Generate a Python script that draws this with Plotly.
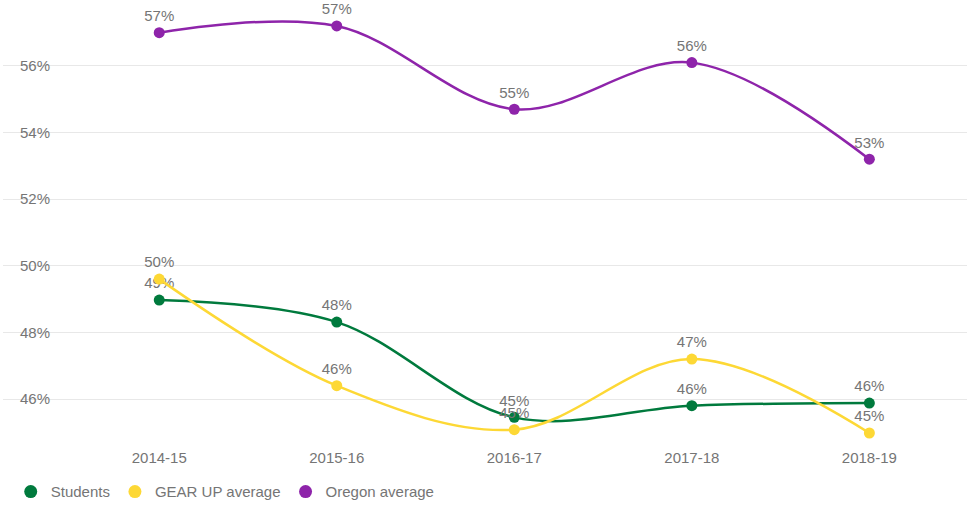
import plotly.graph_objects as go

years = ["2014-15", "2015-16", "2016-17", "2017-18", "2018-19"]
students = [48.97, 48.31, 45.45, 45.8, 45.88]
gear_up = [49.6, 46.4, 45.08, 47.2, 44.98]
oregon = [57.0, 57.2, 54.7, 56.1, 53.2]
y_ticks = [46, 48, 50, 52, 54, 56]
y_tick_text = ["46%", "48%", "50%", "52%", "54%", "56%"]

series = [
    ("Students", students, "#007a3d"),
    ("GEAR UP average", gear_up, "#fdd835"),
    ("Oregon average", oregon, "#8e24aa"),
]

font = "Liberation Sans, Arial, sans-serif"
grey = "#757575"

fig = go.Figure()
for name, vals, col in series:
    fig.add_trace(go.Scatter(
        x=years, y=vals, mode="lines+markers+text", name=name,
        line=dict(color=col, width=2.5, shape="spline", smoothing=1),
        marker=dict(color=col, size=11),
        texttemplate="%{y:.0f}%", textposition="top center",
        textfont=dict(family=font, size=15, color=grey),
        showlegend=False, cliponaxis=False,
    ))
for name, vals, col in series:
    fig.add_trace(go.Scatter(
        x=[None], y=[None], mode="markers", name=name,
        marker=dict(color=col, size=13), showlegend=True,
    ))

fig.update_layout(
    width=967, height=505,
    margin=dict(l=3, r=0, t=0, b=65, autoexpand=False),
    paper_bgcolor="white", plot_bgcolor="white",
    font=dict(family=font, size=15, color=grey),
    xaxis=dict(
        type="category", range=[-0.88, 4.55], automargin=False,
        showgrid=False, zeroline=False, showline=False,
        ticks="outside", ticklen=4, tickcolor="rgba(0,0,0,0)",
        tickfont=dict(family=font, size=15, color=grey),
    ),
    yaxis=dict(
        range=[44.77, 57.98], automargin=False,
        tickmode="array", tickvals=y_ticks, ticktext=y_tick_text,
        ticklabelposition="inside", ticks="inside", ticklen=17,
        tickcolor="rgba(0,0,0,0)",
        showgrid=True, gridcolor="#e8e8e8", gridwidth=1,
        zeroline=False, showline=False,
        tickfont=dict(family=font, size=15, color=grey),
    ),
    legend=dict(
        orientation="h", x=0.008, xanchor="left",
        yref="container", y=0.026, yanchor="middle",
        font=dict(family=font, size=15, color=grey),
        itemclick=False,
    ),
    showlegend=True,
)

fig.write_html(
    "out.html",
    config={"displayModeBar": False},
    post_script="document.body.style.margin='0';document.body.style.overflow='hidden';",
)
